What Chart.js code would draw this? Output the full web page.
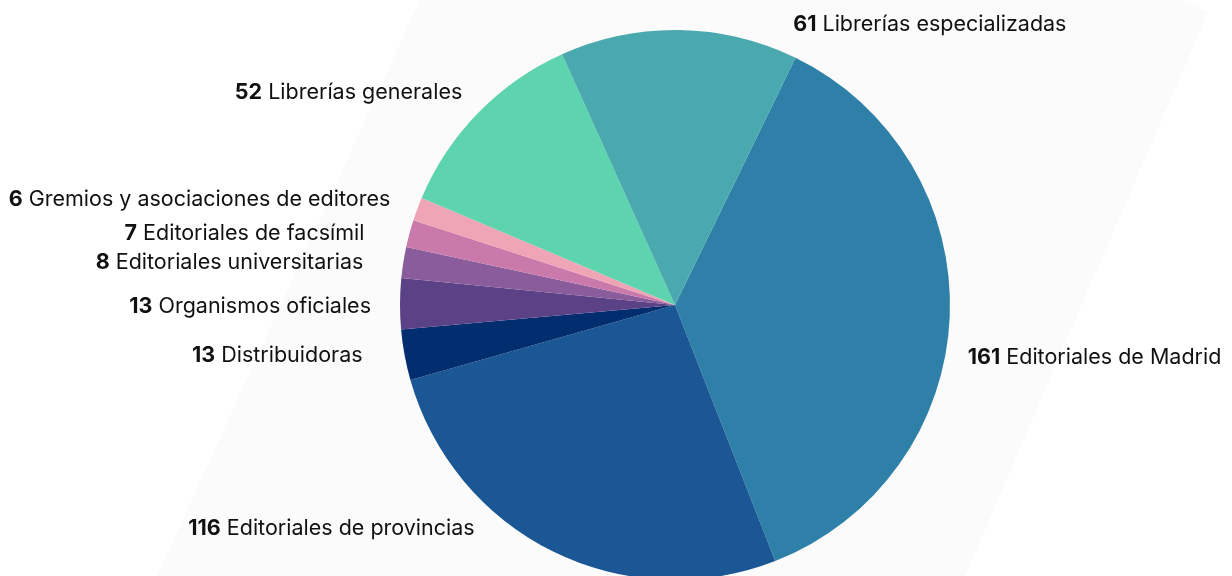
<!DOCTYPE html>
<html>
<head>
<meta charset="utf-8">
<script src="https://cdn.jsdelivr.net/npm/chart.js@4.4.1/dist/chart.umd.min.js"></script>
<style>
    html, body { margin: 0; padding: 0; background: #fff; overflow: hidden; }
    #wrap { position: relative; width: 1232px; height: 620px; }
</style>
</head>
<body>
<div id="wrap"><canvas id="grafico"></canvas></div>
<script>
const categorias = [
    'Editoriales de Madrid',
    'Editoriales de provincias',
    'Distribuidoras',
    'Organismos oficiales',
    'Editoriales universitarias',
    'Editoriales de facsímil',
    'Gremios y asociaciones de editores',
    'Librerías generales',
    'Librerías especializadas',
];

const valores = [161, 116, 13, 13, 8, 7, 6, 52, 61];

const cores = [
    '#2f80a8',
    '#1a5794',
    '#022d6e',
    '#5b4287',
    '#8b5c9b',
    '#c97aaa',
    '#f0a5b7',
    '#5dd3ae',
    '#4aa9ae',
];

// deslocamento do texto em relação ao ponto médio do arco
const deslocamentos = [
    [18, 41], [-78, -23], [-42, 1], [-29, 3], [-40, 0],
    [-45, 0], [-27, -9], [-16, -20], [114, -6],
];

// fundo cinza clarinho inclinado
const fundo = {
    id: 'fundo',
    beforeDraw(chart) {
        const ctx = chart.ctx
        ctx.save()
        ctx.fillStyle = '#fbfbfb'
        ctx.beginPath()
        ctx.moveTo(157, 576)
        ctx.lineTo(420, 0)
        ctx.lineTo(1180, 0)
        ctx.lineTo(1208, 12)
        ctx.lineTo(965, 576)
        ctx.lineTo(965, 620)
        ctx.lineTo(137, 620)
        ctx.closePath()
        ctx.fill()
        ctx.restore()
    }
}

// rótulos: número em negrito + nome
const rotulos = {
    id: 'rotulos',
    afterDraw(chart) {
        const ctx = chart.ctx
        const arcos = chart.getDatasetMeta(0).data
        ctx.save()
        ctx.textBaseline = 'middle'
        ctx.fillStyle = '#111111'
        const fonteB = 'bold 21.5px Inter'
        const fonteN = '21.5px Inter'
        for (let i = 0; i < arcos.length; i++) {
            const a = arcos[i]
            const meio = (a.startAngle + a.endAngle) / 2
            const px = a.x + Math.cos(meio) * a.outerRadius + deslocamentos[i][0]
            const py = a.y + Math.sin(meio) * a.outerRadius + deslocamentos[i][1]
            const num = String(valores[i])
            const txt = ' ' + categorias[i]
            ctx.font = fonteB
            const wNum = ctx.measureText(num).width
            ctx.font = fonteN
            const wTxt = ctx.measureText(txt).width
            let x0 = px
            if (deslocamentos[i][0] < 0) {
                x0 = px - wNum - wTxt
            }
            ctx.textAlign = 'left'
            ctx.font = fonteB
            ctx.fillText(num, x0, py)
            ctx.font = fonteN
            ctx.fillText(txt, x0 + wNum, py)
        }
        ctx.restore()
    }
}

const data = {
    labels: categorias,
    datasets: [{
        data: valores,
        backgroundColor: cores,
        borderWidth: 0,
        hoverOffset: 0,
    }]
}

const config = {
    type: 'pie',
    data: data,
    options: {
        responsive: true,
        maintainAspectRatio: false,
        animation: false,
        rotation: 26,
        radius: 275,
        layout: {
            padding: { left: 400, right: 282, top: 30, bottom: 40 }
        },
        plugins: {
            legend: { display: false },
            tooltip: { enabled: false },
        },
    },
    plugins: [fundo, rotulos],
};

new Chart(document.getElementById('grafico'), config);
</script>
</body>
</html>
